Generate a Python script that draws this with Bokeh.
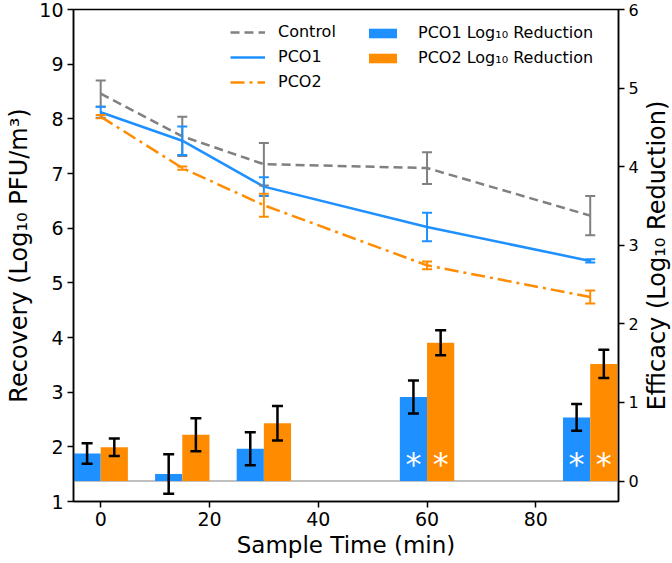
import math
import numpy as np
from bokeh.plotting import figure
from bokeh.layouts import row
from bokeh.models import (Range1d, LinearAxis, ColumnDataSource, Whisker, TeeHead,
                          Span, Legend, LegendItem, FixedTicker)
from bokeh.transform import dodge
from bokeh.core.properties import value
from bokeh.embed import file_html
from bokeh.resources import INLINE

# ---------------- data ----------------
time = [0, 15, 30, 60, 90]
control = [8.46, 7.68, 7.17, 7.10, 6.23]
control_err = [0.24, 0.36, 0.39, 0.29, 0.36]
pco1 = [8.12, 7.60, 6.76, 6.02, 5.40]
pco1_err = [0.10, 0.26, 0.17, 0.26, 0.03]
pco2 = [8.04, 7.10, 6.42, 5.32, 4.74]
pco2_err = [0.03, 0.03, 0.21, 0.07, 0.12]
pco1_red = [0.35, 0.09, 0.41, 1.07, 0.81]
pco1_red_err = [0.13, 0.25, 0.21, 0.21, 0.17]
pco2_red = [0.43, 0.59, 0.735, 1.76, 1.49]
pco2_red_err = [0.11, 0.21, 0.22, 0.16, 0.18]
significant = [False, False, False, True, True]
x_ticks = [0, 20, 40, 60, 80]
left_ticks = [1, 2, 3, 4, 5, 6, 7, 8, 9, 10]
right_ticks = [0, 1, 2, 3, 4, 5, 6]
right_label = "Efficacy (Log\u2081\u2080 Reduction)"

# ---------------- styles ----------------
FONT = "DejaVu Sans"
GRAY = "#808080"
BLUE = "#1E90FF"
ORANGE = "#FF8C00"
BAR_W = 5
OFF = BAR_W / 2
FRAME_W = 545
FRAME_H = 492
TOP = 9
BOTTOM = 62

def arr(a):
    return np.array(a, dtype=float)

src = ColumnDataSource(dict(
    t=time,
    c=control, c_up=arr(control) + arr(control_err), c_lo=arr(control) - arr(control_err),
    p1=pco1, p1_up=arr(pco1) + arr(pco1_err), p1_lo=arr(pco1) - arr(pco1_err),
    p2=pco2, p2_up=arr(pco2) + arr(pco2_err), p2_lo=arr(pco2) - arr(pco2_err),
    r1=pco1_red, r1_up=arr(pco1_red) + arr(pco1_red_err), r1_lo=arr(pco1_red) - arr(pco1_red_err),
    r2=pco2_red, r2_up=arr(pco2_red) + arr(pco2_red_err), r2_lo=arr(pco2_red) - arr(pco2_red_err),
))
sig_src = ColumnDataSource(dict(t=[t for t, s in zip(time, significant) if s],
                                base=[0 for s in significant if s]))

p = figure(frame_width=FRAME_W, frame_height=FRAME_H,
           x_range=Range1d(-5, 95.2), y_range=Range1d(1, 10),
           output_backend="svg", toolbar_location=None,
           min_border_left=73, min_border_right=22, min_border_top=TOP, min_border_bottom=BOTTOM)
p.extra_y_ranges = {"eff": Range1d(-0.26, 6)}
p.xgrid.visible = False
p.ygrid.visible = False
p.outline_line_color = "black"
p.outline_line_width = 1.5
p.outline_line_alpha = 1
p.background_fill_color = "white"
p.border_fill_color = "white"

# baseline
p.add_layout(Span(location=0, dimension="width", y_range_name="eff",
                  line_color="#c0c0c0", line_width=2, level="underlay"))

# bars
rb1 = p.vbar(x=dodge("t", -OFF), top="r1", bottom=0, width=BAR_W, source=src,
             y_range_name="eff", fill_color=BLUE, line_color=None)
rb2 = p.vbar(x=dodge("t", OFF), top="r2", bottom=0, width=BAR_W, source=src,
             y_range_name="eff", fill_color=ORANGE, line_color=None)

for base, up, lo in [(dodge("t", -OFF), "r1_up", "r1_lo"), (dodge("t", OFF), "r2_up", "r2_lo")]:
    p.add_layout(Whisker(source=src, base=base, upper=up, lower=lo, y_range_name="eff",
                         line_color="black", line_width=2.5, level="annotation",
                         upper_head=TeeHead(size=11, line_color="black", line_width=2.5),
                         lower_head=TeeHead(size=11, line_color="black", line_width=2.5)))

for off in (-OFF, OFF):
    p.text(x=dodge("t", off), y="base", text=value("*"), source=sig_src, y_range_name="eff",
           text_color="white", text_font=value(FONT), text_font_size="32px",
           text_align="center", text_baseline="alphabetic", y_offset=-17)

# lines
rc = p.line("t", "c", source=src, line_color=GRAY, line_width=2.5, line_dash="9 5")
r1 = p.line("t", "p1", source=src, line_color=BLUE, line_width=2.5)
r2 = p.line("t", "p2", source=src, line_color=ORANGE, line_width=2.5, line_dash="14 5 3 5")
for up, lo, col in [("c_up", "c_lo", GRAY), ("p1_up", "p1_lo", BLUE), ("p2_up", "p2_lo", ORANGE)]:
    p.add_layout(Whisker(source=src, base="t", upper=up, lower=lo,
                         line_color=col, line_width=2, level="annotation",
                         upper_head=TeeHead(size=10, line_color=col, line_width=2),
                         lower_head=TeeHead(size=10, line_color=col, line_width=2)))

# axes
p.xaxis.ticker = FixedTicker(ticks=x_ticks)
p.yaxis.ticker = FixedTicker(ticks=left_ticks)
p.xaxis.axis_label = "Sample Time (min)"
p.yaxis.axis_label = "Recovery (Log\u2081\u2080 PFU/m\u00b3)"
ax_r = LinearAxis(y_range_name="eff", ticker=FixedTicker(ticks=right_ticks))
p.add_layout(ax_r, "right")

for ax, tsize in [(p.xaxis[0], "19px"), (p.yaxis[0], "19px"), (ax_r, "16px")]:
    ax.major_tick_out = 6
    ax.major_tick_in = 0
    ax.minor_tick_out = 0
    ax.minor_tick_in = 0
    ax.axis_line_width = 1.5
    ax.axis_line_color = "black"
    ax.major_tick_line_width = 1.5
    ax.major_tick_line_color = "black"
    ax.major_label_text_font = FONT
    ax.major_label_text_font_size = tsize
    ax.major_label_text_color = "black"
    ax.major_label_standoff = 5
    ax.axis_label_text_font = FONT
    ax.axis_label_text_font_style = "normal"
    ax.axis_label_text_color = "black"
    ax.axis_label_standoff = 4
p.xaxis.axis_label_text_font_size = "23px"
p.xaxis.major_label_standoff = 4
p.xaxis.axis_label_standoff = 3
p.yaxis.axis_label_text_font_size = "24px"
p.yaxis.major_label_standoff = 4
p.yaxis.axis_label_standoff = 3

# legends
def make_legend(items, loc, standoff):
    return Legend(items=items, location=loc, border_line_color=None, background_fill_alpha=0,
                  padding=0, margin=0, spacing=6, glyph_width=35, glyph_height=12,
                  label_standoff=standoff, label_text_font=FONT, label_text_font_size="16px",
                  label_text_color="black", label_height=16)

p.add_layout(make_legend([LegendItem(label="Control", renderers=[rc]),
                          LegendItem(label="PCO1", renderers=[r1]),
                          LegendItem(label="PCO2", renderers=[r2])], (157, 410), 13))
p.add_layout(make_legend([LegendItem(label="PCO1 Log\u2081\u2080 Reduction", renderers=[rb1]),
                          LegendItem(label="PCO2 Log\u2081\u2080 Reduction", renderers=[rb2])],
                         (292, 434), 18))

# right-hand axis title, reading bottom-to-top, in a narrow strip beside the plot
lab = figure(frame_width=30, frame_height=FRAME_H, x_range=Range1d(0, 1), y_range=Range1d(0, 1),
             output_backend="svg", toolbar_location=None, x_axis_location=None,
             y_axis_location=None, min_border_left=0, min_border_right=0,
             min_border_top=TOP, min_border_bottom=BOTTOM)
lab.xgrid.visible = False
lab.ygrid.visible = False
lab.outline_line_color = None
lab.background_fill_color = "white"
lab.border_fill_color = "white"
lab.text(x=[0.5], y=[0.5], text=[right_label], angle=math.pi / 2,
         text_align="center", text_baseline="middle", text_font=value(FONT),
         text_font_size="24px", text_color="black")

layout = row(p, lab)
open("out.html", "w").write(file_html(layout, INLINE))
